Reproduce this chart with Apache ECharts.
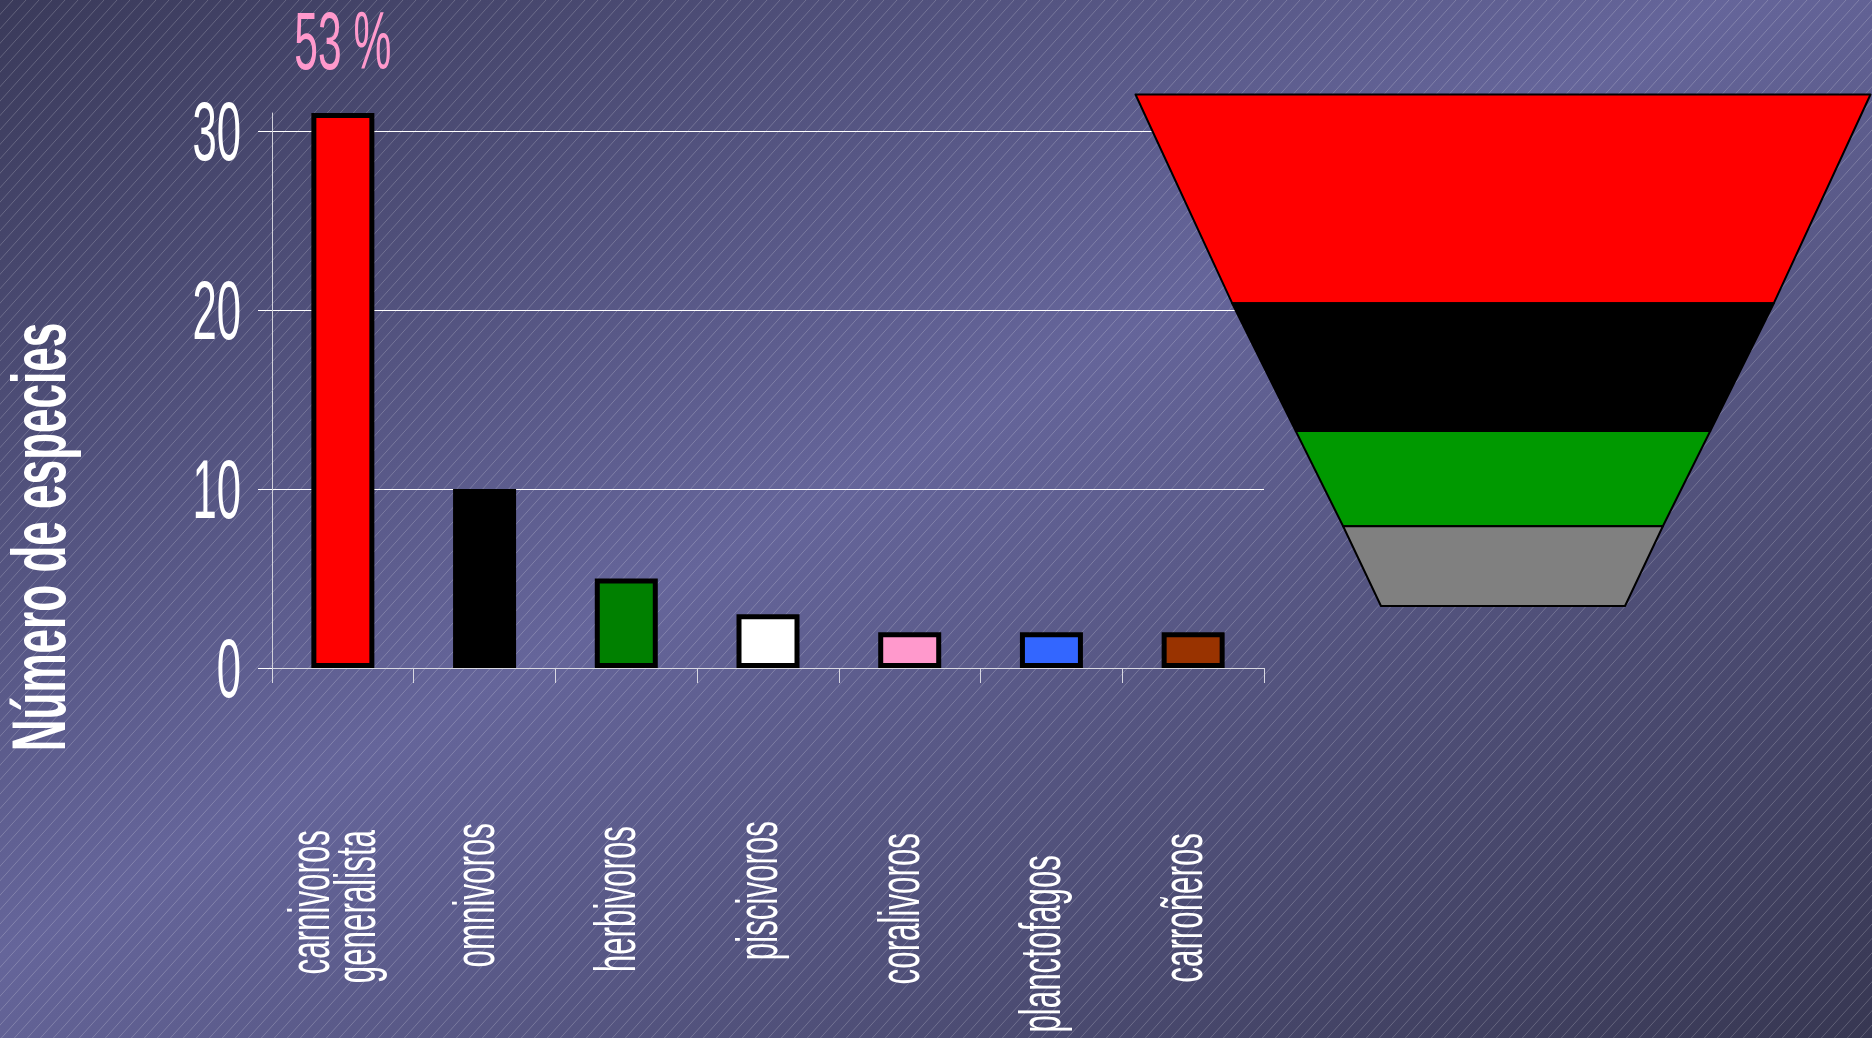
<!DOCTYPE html>
<html>
<head>
<meta charset="utf-8">
<script src="https://cdn.jsdelivr.net/npm/echarts@6/dist/echarts.min.js"></script>
<style>
  html, body { margin: 0; padding: 0; width: 1872px; height: 1038px; overflow: hidden; background: #4a4a72; }
  #bg, #chart { position: absolute; left: 0; top: 0; width: 1872px; height: 1038px; }
</style>
</head>
<body>
<canvas id="bg" width="1872" height="1038"></canvas>
<div id="chart"></div>
<script>
// ---- data ----
const categories = ['carnivoros\ngeneralista', 'omnivoros', 'herbivoros', 'piscivoros', 'coralivoros', 'planctofagos', 'carroñeros'];
const speciesCount = [31, 10, 5, 3, 2, 2, 2];
const barColors = ['#FF0000', '#000000', '#008000', '#FFFFFF', '#FF99CC', '#3366FF', '#993300'];
const yTicks = [0, 10, 20, 30];
const yMax = 31;
const yTitle = 'Número de especies';
const shareLabel = '53 %';

const funnelNames = ['carnívoros', 'omnívoros', 'herbívoros', 'otros'];
const funnelLevels = [100, 73.7, 56.4, 43.5];   // relative width at the top of each band
const funnelBase = 33.2;                         // relative width at the bottom of the last band
const funnelColors = ['#FF0000', '#000000', '#009900', '#808080'];

// ---- layout ----
const W = 1872, H = 1038;
const FONT = '"Liberation Sans", Arial, sans-serif';
const grid = { left: 272, top: 113, width: 992, height: 555 };
const bandHeights = ['40.8%', '25%', '18.6%', '15.6%'];
const labelDrop = [9, 2, 5, 0, 12, 34, 12];      // extra distance of each category label from the axis
const CAT_LINE = 46;                             // line height of the category labels
const CAT_NUDGE = -7;                            // sideways offset of the label block from the category centre
const X_SCALE_CAT = 0.54, X_SCALE_Y = 0.52;

// ---- background: diagonal gradient with fine hatching ----
(function drawBackground() {
  const ctx = document.getElementById('bg').getContext('2d');
  const L = Math.hypot(W, H), k = W * H / L;
  const ux = H / L, uy = W / L;
  const g = ctx.createLinearGradient(W / 2 - k * ux, H / 2 - k * uy, W / 2 + k * ux, H / 2 + k * uy);
  g.addColorStop(0, '#3a3a5a');
  g.addColorStop(0.46, '#65659a');
  g.addColorStop(1, '#373752');
  ctx.fillStyle = g;
  ctx.fillRect(0, 0, W, H);
  const ang = 48 * Math.PI / 180, run = H / Math.tan(ang), step = 13;
  ctx.strokeStyle = 'rgba(255,255,255,0.2)';
  ctx.lineWidth = 1;
  ctx.beginPath();
  for (let c = -run; c < W + step; c += step) {
    ctx.moveTo(c, H);
    ctx.lineTo(c + run, 0);
  }
  ctx.stroke();
})();

const chart = echarts.init(document.getElementById('chart'), null, { renderer: 'canvas' });
const catCenter = grid.left + grid.width / categories.length / 2;

const option = {
  backgroundColor: 'transparent',
  animation: false,
  grid: Object.assign({ containLabel: false, outerBoundsMode: 'none' }, grid),
  xAxis: {
    type: 'category',
    data: categories.map((c, i) => {
      const lines = c.split('\n').length;
      return {
        value: c,
        textStyle: {
          verticalAlign: 'top',
          padding: [CAT_NUDGE - lines * CAT_LINE / 2, labelDrop[i] / X_SCALE_CAT, 0, 0]
        }
      };
    }),
    boundaryGap: true,
    axisLine: { lineStyle: { color: '#d8d8e2', width: 1 } },
    axisTick: { show: true, length: 15, alignWithLabel: false, lineStyle: { color: '#d8d8e2', width: 1 } },
    axisLabel: {
      interval: 0, rotate: 90, margin: 153,
      color: '#ffffff', fontFamily: FONT, fontSize: 58, lineHeight: CAT_LINE
    },
    splitLine: { show: false }
  },
  yAxis: {
    type: 'value',
    min: 0, max: yMax, interval: 10,
    axisLine: { show: true, lineStyle: { color: '#d0d0da', width: 1 } },
    axisTick: { show: true, length: 14, customValues: yTicks, lineStyle: { color: '#ffffff', width: 1 } },
    axisLabel: {
      customValues: yTicks, margin: 31,
      verticalAlign: 'top', lineHeight: 12,
      color: '#ffffff', fontFamily: FONT, fontSize: 84
    },
    splitLine: { show: true, lineStyle: { color: '#ffffff', width: 1 } }
  },
  graphic: [
    {
      type: 'text', silent: true,
      x: 44, y: 537, rotation: Math.PI / 2, scaleX: 0.58,
      style: { text: yTitle, fill: '#ffffff', fontFamily: FONT, fontWeight: 'bold', fontSize: 76, align: 'center', verticalAlign: 'middle' }
    },
    {
      type: 'text', silent: true,
      x: catCenter, y: 46, scaleX: 0.52,
      style: { text: shareLabel, fill: '#FF99CC', fontFamily: FONT, fontSize: 82, align: 'center', verticalAlign: 'middle' }
    }
  ],
  series: [
    {
      type: 'bar',
      barWidth: 63,
      clip: false,
      itemStyle: { borderColor: '#000000', borderWidth: 5 },
      emphasis: { disabled: true },
      data: speciesCount.map((v, i) => ({ value: v, itemStyle: { color: barColors[i] } })),
      z: 3
    },
    {
      type: 'funnel',
      left: 1135.5, top: 94.5, width: 735, height: 511.5,
      sort: 'none', gap: 0, funnelAlign: 'center',
      min: funnelBase, max: funnelLevels[0],
      minSize: funnelBase + '%', maxSize: funnelLevels[0] + '%',
      label: { show: false }, labelLine: { show: false },
      emphasis: { disabled: true },
      itemStyle: { borderColor: '#000000', borderWidth: 2 },
      data: funnelNames.map((n, i) => ({
        name: n, value: funnelLevels[i],
        itemStyle: { color: funnelColors[i], height: bandHeights[i] }
      })),
      z: 5
    }
  ]
};

chart.setOption(option);

// Narrow the axis label glyphs along their reading direction (condensed lettering).
function condenseAxisLabels() {
  const scaleFor = new Map();
  categories.forEach(c => scaleFor.set(c, X_SCALE_CAT));
  yTicks.forEach(t => scaleFor.set(String(t), X_SCALE_Y));
  const zr = chart.getZr();
  const visit = el => {
    if (el.type === 'text' && el.style && el.style.text != null) {
      const s = scaleFor.get(String(el.style.text));
      if (s && el.scaleX !== s) { el.scaleX = s; el.markRedraw(); }
    }
    if (el.isGroup) el.eachChild(visit);
  };
  zr.storage.getRoots().forEach(visit);
  zr.refreshImmediately();
}
condenseAxisLabels();
chart.on('finished', condenseAxisLabels);
</script>
</body>
</html>
